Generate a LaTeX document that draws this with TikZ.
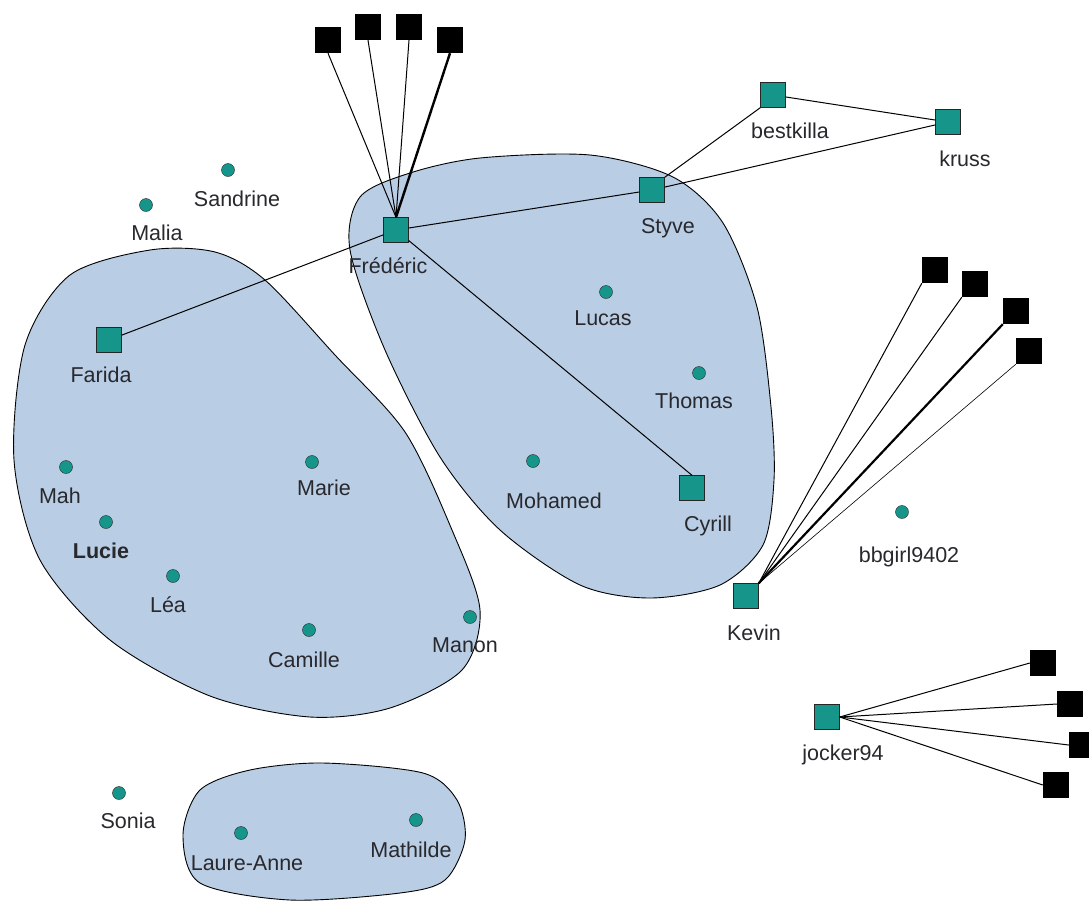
\documentclass[tikz,border=0pt]{standalone}
\usepackage{fontspec}
\setmainfont{Liberation Sans}
\definecolor{netteal}{RGB}{22,150,138}
\definecolor{groupblue}{RGB}{185,205,228}
\definecolor{txtgray}{RGB}{40,40,45}

\begin{document}
\begin{tikzpicture}[x=1pt,y=-1pt,
    person/.style={draw=black!85,fill=netteal,minimum size=25pt,inner sep=0pt},
    other/.style={fill=black,minimum size=26pt,inner sep=0pt},
    dot/.style={circle,draw=black!85,fill=netteal,minimum size=13pt,inner sep=0pt},
    lbl/.style={anchor=base,text=txtgray,font=\fontsize{21.5}{25}\selectfont,inner sep=0pt},
    link/.style={line width=1pt},
    group/.style={draw=black,line width=0.9pt,fill=groupblue}]
  \useasboundingbox (0,0) rectangle (1089,903);

  % the three groups
  \draw[group] plot[smooth cycle] coordinates {(14,460) (25,345) (70,275) (150,250) (215,252)
      (265,280) (335,355) (405,432) (452,530) (480,610) (462,670) (390,708) (310,717)
      (210,696) (110,640) (40,560)};
  \draw[group] plot[smooth cycle] coordinates {(350,250) (360,197) (410,173) (480,158)
      (590,155) (673,177) (723,223) (757,307) (771,407) (774,480) (763,545) (720,585)
      (650,598) (580,585) (500,530) (440,457) (385,350)};
  \draw[group] plot[smooth cycle] coordinates {(183,835) (200,790) (250,770) (323,763)
      (423,773) (457,800) (465,840) (445,880) (400,893) (290,900) (200,883)};

  % squares
  \node[person] (fred) at (396,230) {};
  \node[person] (farida) at (109,340) {};
  \node[person] (styve) at (652,190) {};
  \node[person] (best) at (773,95) {};
  \node[person] (kruss) at (948,122) {};
  \node[person] (cyrill) at (692,488) {};
  \node[person] (kevin) at (746,596) {};
  \node[person] (jocker) at (827,717) {};

  \node[other] (fb1) at (328,40) {};
  \node[other] (fb2) at (368,27) {};
  \node[other] (fb3) at (409,27) {};
  \node[other] (fb4) at (450,40) {};
  \node[other] (kb1) at (935,270) {};
  \node[other] (kb2) at (975,284) {};
  \node[other] (kb3) at (1016,311) {};
  \node[other] (kb4) at (1029,351) {};
  \node[other] (jb1) at (1043,663) {};
  \node[other] (jb2) at (1070,704) {};
  \node[other] (jb3) at (1082,745) {};
  \node[other] (jb4) at (1056,785) {};

  % dots
  \node[dot] (sandrine) at (228,170) {};
  \node[dot] (malia) at (146,205) {};
  \node[dot] (mah) at (66,467) {};
  \node[dot] (lucie) at (106,522) {};
  \node[dot] (lea) at (173,576) {};
  \node[dot] (marie) at (312,462) {};
  \node[dot] (camille) at (309,630) {};
  \node[dot] (manon) at (470,617) {};
  \node[dot] (lucas) at (606,292) {};
  \node[dot] (thomas) at (699,373) {};
  \node[dot] (mohamed) at (533,461) {};
  \node[dot] (bbgirl) at (902,512) {};
  \node[dot] (sonia) at (119,793) {};
  \node[dot] (laure) at (241,833) {};
  \node[dot] (mathilde) at (416,820) {};

  % names
  \node[lbl] (fred-t) at (388,273) {Frédéric};
  \node[lbl] (farida-t) at (101,382) {Farida};
  \node[lbl] (styve-t) at (668,233) {Styve};
  \node[lbl] (best-t) at (790,138) {bestkilla};
  \node[lbl] (kruss-t) at (965,166) {kruss};
  \node[lbl] (cyrill-t) at (708,531) {Cyrill};
  \node[lbl] (kevin-t) at (754,640) {Kevin};
  \node[lbl] (jocker-t) at (843,760) {jocker94};
  \node[lbl] (sandrine-t) at (237,206) {Sandrine};
  \node[lbl] (malia-t) at (157,240) {Malia};
  \node[lbl] (mah-t) at (60,503) {Mah};
  \node[lbl,font=\fontsize{21.5}{25}\selectfont\bfseries] (lucie-t) at (101,558) {Lucie};
  \node[lbl] (lea-t) at (168,612) {Léa};
  \node[lbl] (marie-t) at (324,495) {Marie};
  \node[lbl] (camille-t) at (304,667) {Camille};
  \node[lbl] (manon-t) at (465,652) {Manon};
  \node[lbl] (lucas-t) at (603,325) {Lucas};
  \node[lbl] (thomas-t) at (694,408) {Thomas};
  \node[lbl] (mohamed-t) at (554,508) {Mohamed};
  \node[lbl] (bbgirl-t) at (909,562) {bbgirl9402};
  \node[lbl] (sonia-t) at (128,828) {Sonia};
  \node[lbl] (laure-t) at (247,870) {Laure-Anne};
  \node[lbl] (mathilde-t) at (411,857) {Mathilde};

  % links
  \foreach \b in {fb1,fb2,fb3}
    \draw[link] (\b.south) -- (fred.north);
  \draw[link,line width=2.4pt] (fb4.south) -- (fred.north);
  \draw[link] (farida) -- (fred);
  \draw[link] (fred) -- (styve);
  \draw[link] (fred) -- (cyrill.north);
  \draw[link] (styve.north east) -- (best.south west);
  \draw[link] (styve) -- (kruss);
  \draw[link] (best) -- (kruss);
  \foreach \b in {kb1,kb2}
    \draw[link] (\b.south west) -- (kevin.north east);
  \draw[link,line width=2.2pt] (kb3.south west) -- (kevin.north east);
  \draw[link,line width=0.6pt] (kb4.south west) -- (kevin.north east);
  \foreach \b in {jb1,jb2,jb3,jb4}
    \draw[link] (jocker.east) -- (\b.west);
\end{tikzpicture}
\end{document}
